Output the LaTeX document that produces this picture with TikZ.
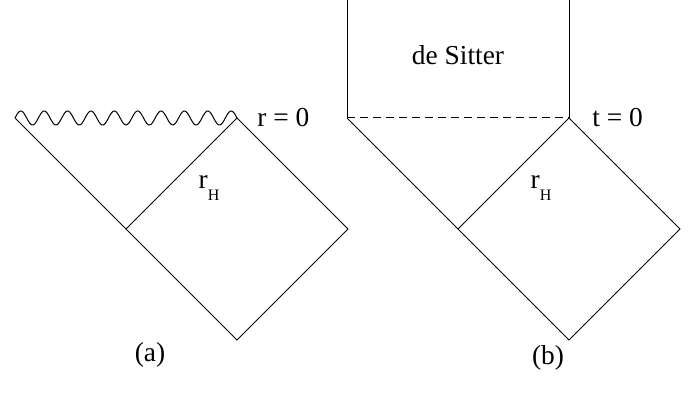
\documentclass[tikz,border=0pt]{standalone}
\usepackage{fontspec}
\setmainfont{Liberation Serif}

\tikzset{
  edge/.style={line width=0.5pt},
  label/.style={inner sep=0pt, font=\fontsize{13.7}{16}\selectfont}
}
\newcommand{\rH}{r\raisebox{-0.45em}{\fontsize{8}{8}\selectfont H}}

\begin{document}
\begin{tikzpicture}[x=0.5pt, y=-0.5pt]
            \useasboundingbox (0,0) rectangle (695,400);

            % (a) black hole
            \coordinate (aL) at (15,118);
            \coordinate (aT) at (237,118);
            \coordinate (aM) at (126,229);
            \coordinate (aR) at (348,229);
            \coordinate (aB) at (237,340);
            \draw[edge] plot[domain=0:222, samples=200, smooth]
                ({15+\x}, {118-7*sin(\x/222*9.5*360)});
            \draw[edge] (aL) -- (aM) -- (aB) -- (aR) -- (aT) -- (aM);
            \node[label, anchor=west] (ar0) at (257,118) {r = 0};
            \node[label] (arH) at (209,188) {\rH};
            \node[label] (acap) at (150,355) {(a)};

            % (b) with de Sitter region
            \coordinate (bL) at (347,118);
            \coordinate (bT) at (569,118);
            \coordinate (bM) at (458,229);
            \coordinate (bR) at (680,229);
            \coordinate (bB) at (569,340);
            \coordinate (bLtop) at (347,0);
            \coordinate (bTtop) at (569,0);
            \draw[edge] (bLtop) -- (bL);
            \draw[edge] (bTtop) -- (bT);
            \draw[edge, dash pattern=on 4pt off 2.5pt] (bL) -- (bT);
            \draw[edge] (bL) -- (bM) -- (bB) -- (bR) -- (bT) -- (bM);
            \node[label, anchor=west] (bt0) at (592,118) {t = 0};
            \node[label] (brH) at (541,188) {\rH};
            \node[label] (bdS) at (458,55) {de Sitter};
            \node[label] (bcap) at (548,358) {(b)};
\end{tikzpicture}
\end{document}
